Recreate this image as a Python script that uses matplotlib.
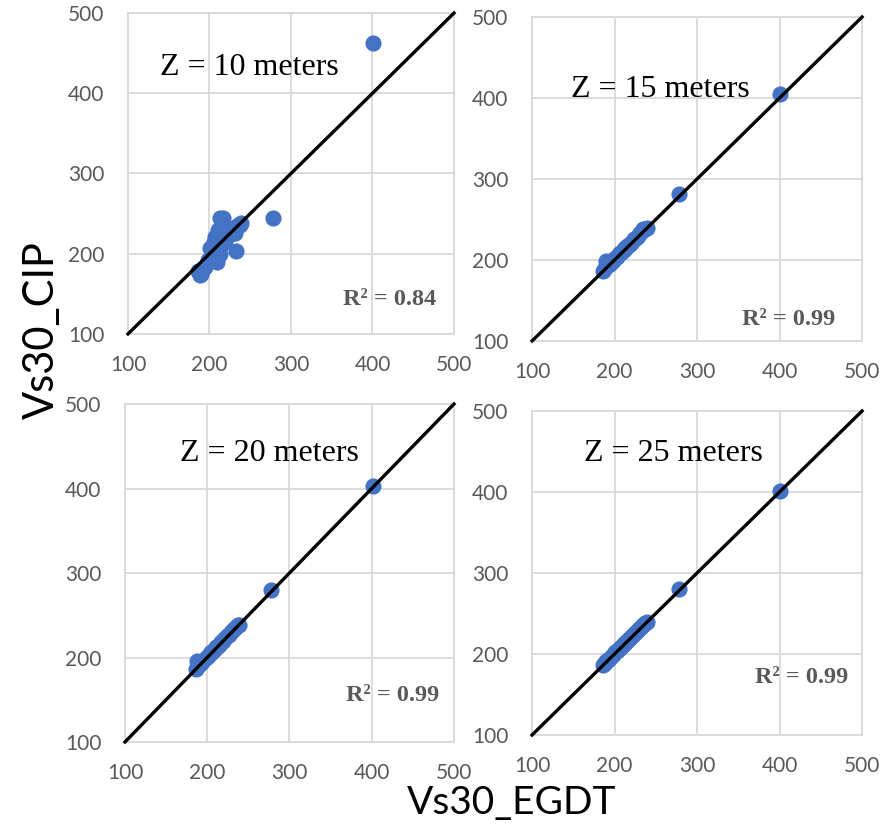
import numpy as np
import matplotlib.pyplot as plt


# Vs30 по EGDT (общая ось X для всех глубин)
vs_egdt = [186, 188, 190, 192, 194, 198, 201, 203, 205, 207, 209, 211, 213, 213,
           215, 217, 219, 221, 224, 226, 229, 231, 233, 235, 237, 239, 278, 401]

# Vs30 по CIP для разных глубин Z
cip_10 = [178, 174, 175, 181, 184, 192, 207, 194, 215, 221, 190, 230, 245, 200,
          212, 245, 216, 226, 231, 225, 232, 226, 203, 236, 236, 238, 245, 463]
cip_15 = [187, 190, 199, 194, 195, 199, 203, 204, 207, 208, 210, 213, 215, 214,
          217, 218, 220, 222, 226, 227, 230, 233, 236, 238, 238, 239, 281, 405]
cip_20 = [186, 196, 191, 193, 195, 199, 202, 204, 206, 208, 210, 212, 214, 214,
          216, 218, 220, 222, 225, 227, 230, 232, 234, 236, 238, 239, 280, 403]
cip_25 = [186, 189, 191, 193, 195, 199, 202, 204, 206, 208, 210, 212, 214, 213,
          216, 218, 220, 222, 225, 227, 230, 232, 234, 236, 238, 239, 280, 401]

depths = ['Z = 10 meters', 'Z = 15 meters', 'Z = 20 meters', 'Z = 25 meters']
r2 = ['R² = 0.84', 'R² = 0.99', 'R² = 0.99', 'R² = 0.99']
ticks = [100, 200, 300, 400, 500]

# положения осей (в долях фигуры) и подписей
boxes = [[0.1438, 0.5952, 0.3663, 0.3890],
         [0.5978, 0.5867, 0.3708, 0.3927],
         [0.1404, 0.1006, 0.3697, 0.4097],
         [0.5978, 0.1091, 0.3708, 0.3927]]
z_pos = [(0.098, 0.829), (0.118, 0.775), (0.167, 0.855), (0.158, 0.870)]
r2_pos = [(0.945, 0.106), (0.918, 0.065), (0.954, 0.139), (0.958, 0.179)]

blue = '#4472C4'
grid_c = '#D9D9D9'
lab_c = '#595959'

fig = plt.figure(figsize=(8.9, 8.25), dpi=100)

for i, cip in enumerate([cip_10, cip_15, cip_20, cip_25]):
    ax = fig.add_axes(boxes[i])
    ax.set_xlim(100, 500)
    ax.set_ylim(100, 500)
    ax.set_xticks(ticks)
    ax.set_yticks(ticks)
    ax.grid(True, color=grid_c, linewidth=1.3)
    ax.set_axisbelow(True)
    for s in ax.spines.values():
        s.set_color(grid_c)
        s.set_linewidth(1.3)
    ax.tick_params(length=0, labelsize=15, labelcolor=lab_c)
    ax.tick_params(axis='y', pad=17)
    ax.tick_params(axis='x', pad=15)
    for lab in ax.get_xticklabels() + ax.get_yticklabels():
        lab.set_family('Lato')

    ax.scatter(vs_egdt, cip, s=135, color=blue, zorder=3, linewidths=0)
    ax.plot([100, 500], [100, 500], color='black', linewidth=2.4, zorder=4,
            clip_on=False)

    ax.text(z_pos[i][0], z_pos[i][1], depths[i], transform=ax.transAxes,
            family='Liberation Serif', fontsize=23, va='center', ha='left')
    ax.text(r2_pos[i][0], r2_pos[i][1], r2[i], transform=ax.transAxes,
            family='Liberation Serif', fontsize=17.5, fontweight='bold',
            color=lab_c, va='center', ha='right')

fig.text(0.047, 0.60, 'Vs30_CIP', rotation=90, family='Lato', fontsize=30,
         va='center', ha='center')
fig.text(0.575, 0.013, 'Vs30_EGDT', family='Lato', fontsize=28,
         va='baseline', ha='center')

plt.savefig('out.png', dpi=100)
